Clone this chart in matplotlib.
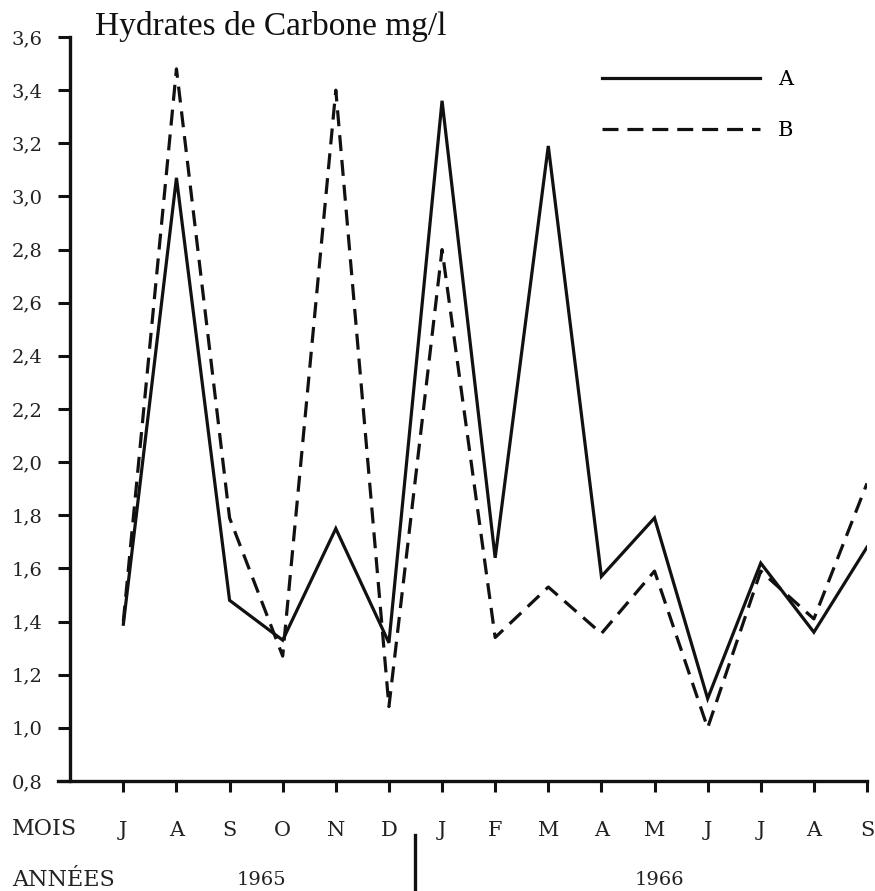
import matplotlib
matplotlib.use('Agg')
import matplotlib.pyplot as plt
import matplotlib.transforms as mtransforms
import numpy as np

plt.rcParams['font.family'] = ['DejaVu Serif']

months = ['J', 'A', 'S', 'O', 'N', 'D', 'J', 'F', 'M', 'A', 'M', 'J', 'J', 'A', 'S']
serie_a = [1.39, 3.07, 1.48, 1.33, 1.75, 1.32, 3.36, 1.64, 3.19, 1.57, 1.79, 1.11, 1.62, 1.36, 1.68]
serie_b = [1.40, 3.48, 1.79, 1.27, 3.40, 1.08, 2.80, 1.34, 1.53, 1.355, 1.59, 1.00, 1.59, 1.41, 1.92]
yticks = [0.8, 1.0, 1.2, 1.4, 1.6, 1.8, 2.0, 2.2, 2.4, 2.6, 2.8, 3.0, 3.2, 3.4, 3.6]
years = ['1965', '1966']
year_pos = [2.6, 10.1]
year_split = 5.5

x = np.arange(len(months))

fig = plt.figure(figsize=(8.75, 8.91), dpi=100)
ax = fig.add_axes([58/875, 1 - 781/891, (867 - 58)/875, (781 - 37)/891])

ax.plot(x, serie_a, color='#111111', lw=2.3, label='A', solid_joinstyle='miter')
ax.plot(x, serie_b, color='#111111', lw=2.3, label='B', linestyle=(0, (5, 2.8)))

ax.set_xlim(-1.23, 14)
ax.set_ylim(0.8, 3.6)
ax.spines['top'].set_visible(False)
ax.spines['right'].set_visible(False)
ax.spines['left'].set_position(('data', -1))
for s in ['left', 'bottom']:
    ax.spines[s].set_linewidth(2.4)
    ax.spines[s].set_color('#111111')

ax.set_yticks(yticks)
ax.set_yticklabels([('%.1f' % v).replace('.', ',') for v in yticks], fontsize=14, color='#222222')
ax.set_xticks(x)
ax.set_xticklabels(months, fontsize=15, color='#222222')
ax.tick_params(axis='y', length=9, width=2.2, pad=11, colors='#111111', labelcolor='#222222')
ax.tick_params(axis='x', length=8, width=2.2, pad=21, colors='#111111', labelcolor='#222222')

fig.text(95/875, 1 - 27/891, 'Hydrates de Carbone mg/l', fontsize=24, va='center', ha='left',
         color='#111111', family='Liberation Serif')

ax.legend(loc='upper left', bbox_to_anchor=(602/875, 1 - 70/891), bbox_transform=fig.transFigure,
          frameon=False, fontsize=15, handlelength=7.6, handletextpad=0.85, labelspacing=1.55,
          borderpad=0, borderaxespad=0)

fig.text(12/875, 1 - 829/891, 'MOIS', fontsize=16, va='center', ha='left', color='#222222')
fig.text(12/875, 1 - 880/891, 'ANNÉES', fontsize=16, va='center', ha='left', color='#222222')

trans = mtransforms.blended_transform_factory(ax.transData, fig.transFigure)
for lab, pos in zip(years, year_pos):
    fig.text(pos, 1 - 880/891, lab, fontsize=14, va='center', ha='center', color='#222222', transform=trans)
ax.plot([year_split, year_split], [1 - 835/891, 1 - 889/891], color='#111111', lw=2.4,
        transform=trans, clip_on=False)

plt.savefig('out.png', dpi=100)
